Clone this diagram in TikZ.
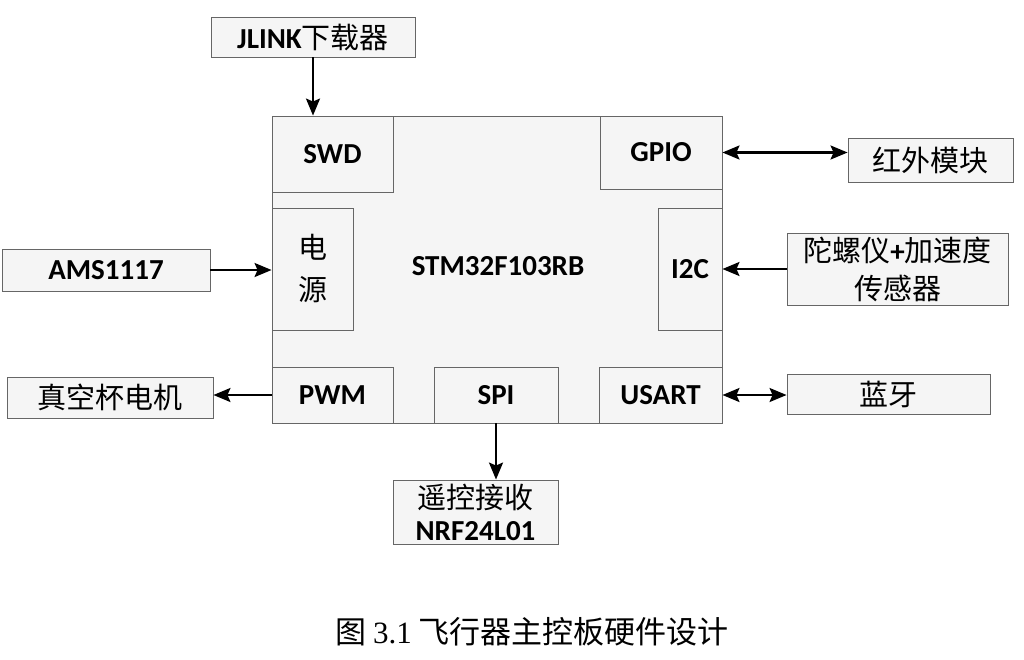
\documentclass[tikz,border=0pt]{standalone}
\usepackage{fontspec}
\setmainfont{Carlito}
\newfontfamily\cjk{Noto Sans CJK SC}
\newfontfamily\capserif{Liberation Serif}
\usetikzlibrary{arrows.meta}
\newcommand\zh[1]{{\cjk\mdseries #1}}
\begin{document}
\begin{tikzpicture}[x=1pt,y=-1pt,
  box/.style={draw=black!60, line width=0.9pt, fill=black!4, inner sep=0pt,
    font=\fontsize{29}{38}\selectfont\bfseries, align=center},
  lbl/.style={inner sep=0pt, font=\fontsize{29}{38}\selectfont\bfseries, align=center},
  tip/.tip={Stealth[length=17pt,width=14pt,inset=3pt]},
  arr/.style={line width=2.2pt, -tip},
  darr/.style={line width=2.2pt, tip-tip}]
\useasboundingbox (0,0) rectangle (1024,659);
\fill[white] (0,0) rectangle (1024,659);

% main controller
\node[box, minimum width=450pt, minimum height=307pt] (main) at (497,269.5) {};
\node[lbl] (mcu) at (498,266) {STM32F103RB};

% internal blocks
\node[box, minimum width=121pt, minimum height=76pt] (swd) at (332.5,154) {SWD};
\node[box, minimum width=122pt, minimum height=73pt] (gpio) at (661,152.5) {GPIO};
\node[box, minimum width=81pt, minimum height=122pt, font=\fontsize{29}{42}\selectfont] (pwr) at (312.5,269) {\zh{电}\\\zh{源}};
\node[box, minimum width=64pt, minimum height=122pt] (i2c) at (690,269) {I2C};
\node[box, minimum width=121pt, minimum height=56pt] (pwm) at (332.5,395) {PWM};
\node[box, minimum width=124pt, minimum height=56pt] (spi) at (496,395) {SPI};
\node[box, minimum width=123pt, minimum height=56pt] (usart) at (660.5,395) {USART};

% external blocks
\node[box, minimum width=204pt, minimum height=40pt] (jlink) at (313,37) {JLINK\zh{下载器}};
\node[box, minimum width=165pt, minimum height=44pt] (ir) at (930.5,160) {\zh{红外模块}};
\node[box, minimum width=221pt, minimum height=72pt] (gyro) at (897.5,269) {\zh{陀螺仪}+\zh{加速度}\\\zh{传感器}};
\node[box, minimum width=208pt, minimum height=42pt] (ams) at (106,270) {AMS1117};
\node[box, minimum width=206pt, minimum height=41pt] (motor) at (110,397.5) {\zh{真空杯电机}};
\node[box, minimum width=203pt, minimum height=40pt] (bt) at (888.5,394) {\zh{蓝牙}};
\node[box, minimum width=165pt, minimum height=64pt, font=\fontsize{29}{32}\selectfont\bfseries] (nrf) at (475.5,512) {\zh{遥控接收}\\NRF24L01};

% connectors
\draw[arr] (jlink.south) -- (jlink.south |- swd.north);
\draw[darr] (gpio.east) -- (gpio.east -| ir.west);
\draw[arr] (gyro.west) -- (gyro.west -| i2c.east);
\draw[arr] (ams.east) -- (ams.east -| pwr.west);
\draw[arr] (pwm.west) -- (pwm.west -| motor.east);
\draw[darr] (usart.east) -- (usart.east -| bt.west);
\draw[arr] (spi.south) -- (spi.south |- nrf.north);

% caption
\node[inner sep=0pt, font=\fontsize{31}{31}\selectfont\cjk] (cap) at (532,632) {图 {\capserif 3.1} 飞行器主控板硬件设计};
\end{tikzpicture}
\end{document}
